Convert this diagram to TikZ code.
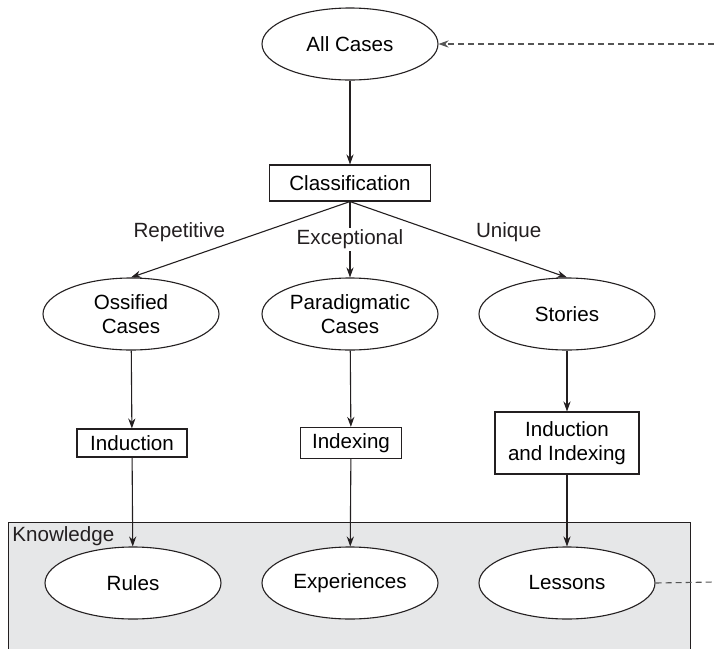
\documentclass[tikz,border=0pt]{standalone}
\usepackage{fontspec}
\setmainfont{Liberation Sans}
\usetikzlibrary{positioning,arrows.meta,shapes.geometric}
\definecolor{knowcol}{RGB}{230,231,232}
\definecolor{linecol}{RGB}{35,31,32}
\definecolor{dashcol}{RGB}{85,85,85}

\begin{document}
\begin{tikzpicture}[x=0.5pt, y=-0.5pt,
  cas/.style={ellipse, draw=linecol, fill=white, line width=0.55pt,
              font=\fontsize{10.3}{12.3}\selectfont, minimum width=88pt, minimum height=36pt,
              inner sep=0pt, align=center},
  proc/.style={rectangle, draw=linecol, fill=white, line width=0.55pt,
               font=\fontsize{10.3}{12.3}\selectfont, inner xsep=6pt, inner ysep=3pt, align=center},
  ar/.style={-{Stealth[length=5pt, width=3.6pt]}, line width=0.55pt, linecol},
  lb/.style={font=\fontsize{10.3}{12.3}\selectfont, text=linecol},
]
\useasboundingbox (0,0) rectangle (714,649);

% knowledge area
\node[rectangle, draw=linecol, fill=knowcol, line width=0.55pt, anchor=north west,
      minimum width=341pt, minimum height=70pt, inner sep=0pt] (know) at (8,522) {};
\node[lb, anchor=north west, inner sep=2pt] (knowlb) at (know.north west) {Knowledge};

% top
\node[cas] (all) at (350,44) {All Cases};
\node[proc, minimum width=80.5pt, minimum height=18pt] (cls) at (350,183) {Classification};

% cases
\node[cas] (oss) at (131,314) {Ossified\\Cases};
\node[cas] (par) at (350,314) {Paradigmatic\\Cases};
\node[cas] (sto) at (567,314) {Stories};

% processes
\node[proc, minimum width=55pt, minimum height=14pt] (ind) at (132,443) {Induction};
\node[proc, minimum width=45pt, minimum height=14pt] (idx) at (351,443) {Indexing};
\node[proc, minimum width=72pt, minimum height=31pt, inner ysep=1pt] (both) at (567,443)
    {Induction\\and Indexing};

% knowledge
\node[cas] (rul) at (133,583) {Rules};
\node[cas] (exp) at (350,583) {Experiences};
\node[cas] (les) at (567,583) {Lessons};

\draw[ar] (all) -- (cls);
\draw[ar] (cls.south) -- node[lb, pos=0.4, anchor=east, xshift=-15pt] {Repetitive} (oss.north);
\draw[ar] (cls.south) -- node[lb, fill=white, inner sep=1pt, pos=0.5] {Exceptional} (par.north);
\draw[ar] (cls.south) -- node[lb, pos=0.4, anchor=west, xshift=16pt] {Unique} (sto.north);

\foreach \a/\b/\c in {oss/ind/rul, par/idx/exp, sto/both/les} {
  \draw[ar] (\a) -- (\b);
  \draw[ar] (\b) -- (\c);
}

% feedback
\coordinate (fbin) at (714,44);
\coordinate (fbout) at (714,582);
\draw[ar, dashcol, dash pattern=on 3pt off 2pt] (fbin) -- (all.east);
\draw[line width=0.55pt, dashcol, dash pattern=on 3pt off 2pt] (les.east) -- (fbout);
\end{tikzpicture}
\end{document}
